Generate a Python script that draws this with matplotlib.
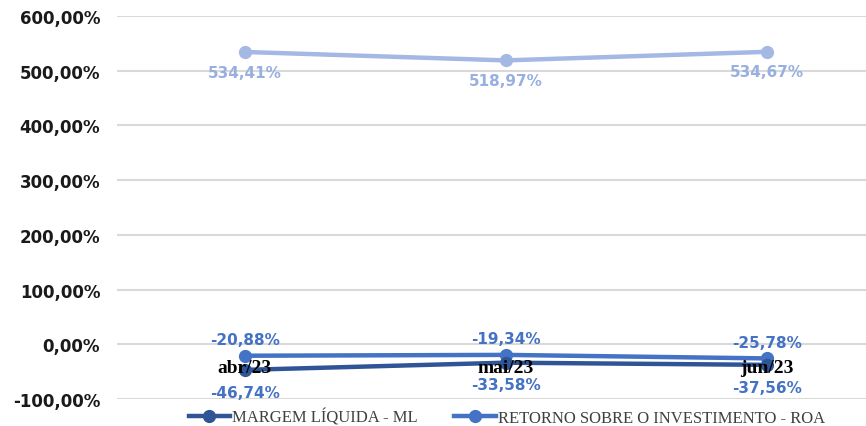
import numpy as np
import matplotlib.pyplot as plt

meses = ["abr/23", "mai/23", "jun/23"]
ml = [-46.74, -33.58, -37.56]
roa = [-20.88, -19.34, -25.78]
outro = [534.41, 518.97, 534.67]

c_ml = "#2F5597"
c_roa = "#4472C4"
c_outro = "#A4B8E4"
c_outro_txt = "#97B0E0"

fig = plt.figure(figsize=(8.66, 4.27), dpi=100)
ax = fig.add_axes([0.135, 0.0632, 0.865, 0.8968])
x = np.arange(len(meses))

ax.plot(x, outro, color=c_outro, lw=3.2, marker="o", ms=8.5, zorder=3)
ax.plot(x, roa, color=c_roa, lw=3.2, marker="o", ms=8.5, zorder=3,
        label="RETORNO SOBRE O INVESTIMENTO - ROA")
ax.plot(x, ml, color=c_ml, lw=3.2, marker="o", ms=8.5, zorder=3,
        label="MARGEM LÍQUIDA - ML")

def fmt(v):
    return f"{v:.2f}".replace(".", ",") + "%"

for i in range(len(x)):
    ax.annotate(fmt(outro[i]), (x[i], outro[i]), xytext=(0, -14.5), textcoords="offset points",
                ha="center", va="center", color=c_outro_txt, fontsize=11, fontweight="bold")
    ax.annotate(fmt(roa[i]), (x[i], roa[i]), xytext=(0, 11.5), textcoords="offset points",
                ha="center", va="center", color=c_roa, fontsize=11, fontweight="bold")
    ax.annotate(fmt(ml[i]), (x[i], ml[i]), xytext=(0, -16), textcoords="offset points",
                ha="center", va="center", color=c_roa, fontsize=11, fontweight="bold")

for i, m in enumerate(meses):
    ax.annotate(m, (x[i], 0), xytext=(0, -16.5), textcoords="offset points", ha="center",
                va="center", fontsize=14, fontweight="bold", family="Liberation Serif",
                color="black", zorder=4)

ax.set_ylim(-100, 600)
ax.set_xlim(-0.49, 2.38)
ax.set_yticks(np.arange(-100, 601, 100))
ax.set_yticklabels([fmt(v) for v in np.arange(-100, 601, 100)], fontsize=12,
                   fontweight="bold", color="#1a1a1a")
ax.set_xticks([])
ax.tick_params(axis="y", length=0, pad=12)
ax.grid(axis="y", color="#D9D9D9", lw=1.5)
ax.set_axisbelow(True)
for s in ax.spines.values():
    s.set_visible(False)

h, l = ax.get_legend_handles_labels()
fig.legend(h[::-1], l[::-1], loc="center", bbox_to_anchor=(0.585, 0.02), ncol=2, frameon=False,
           prop={"family": "Liberation Serif", "size": 12}, labelcolor="#404040",
           handlelength=2.5, handletextpad=0.1, columnspacing=2.2)

fig.savefig("out.png", dpi=100)
